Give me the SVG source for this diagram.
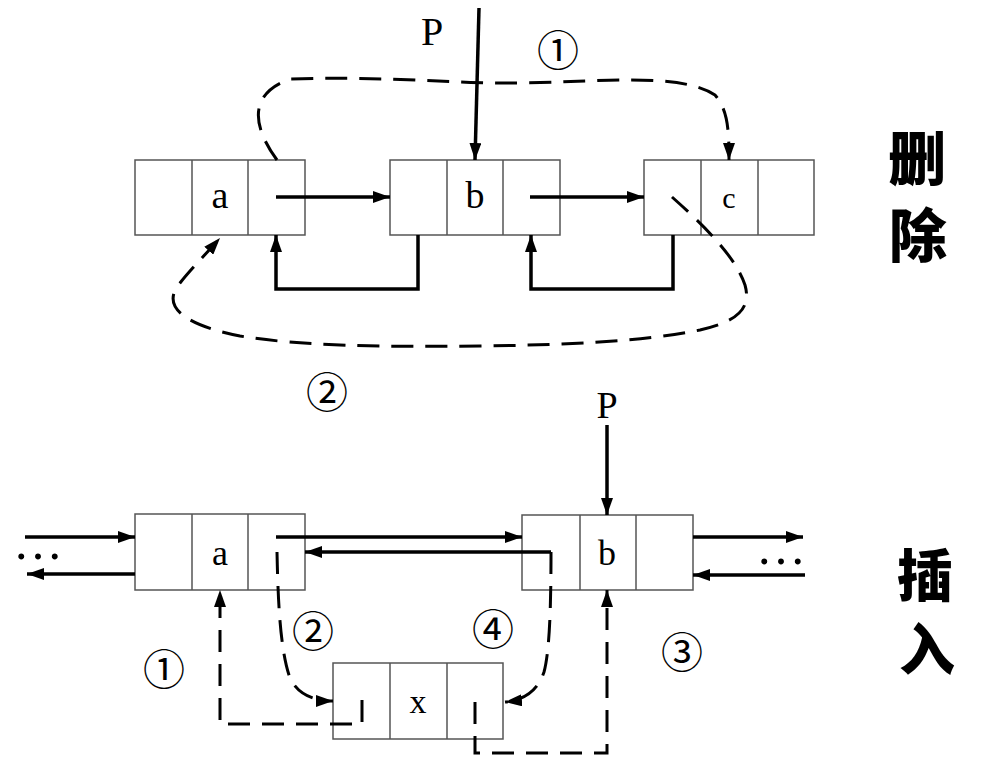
<svg xmlns="http://www.w3.org/2000/svg" width="987" height="776" viewBox="0 0 987 776">
<defs>
<style>
.box{fill:#fff;stroke:#555;stroke-width:1.5}
.ln{fill:none;stroke:#000;stroke-width:3.5}
.dl{fill:none;stroke:#000;stroke-width:3;stroke-dasharray:22 12}
.t{font-family:"Liberation Serif","Times New Roman",serif;fill:#000;text-anchor:middle}
.c{font-family:"Noto Sans CJK SC",sans-serif;fill:#000;text-anchor:middle}
.h{font-family:"Noto Sans CJK SC",sans-serif;font-weight:900;fill:#000;text-anchor:middle}
</style>
<marker id="ah" viewBox="0 0 17 12" refX="17" refY="6" markerWidth="17" markerHeight="12" markerUnits="userSpaceOnUse" orient="auto">
<path d="M0,0 L17,6 L0,12 Z" fill="#000"/>
</marker>
</defs>
<rect width="987" height="776" fill="#fff"/>

<g id="top-a">
<rect class="box" x="135" y="160" width="170" height="75"/>
<line class="box" x1="192" y1="160" x2="192" y2="235"/>
<line class="box" x1="248" y1="160" x2="248" y2="235"/>
<text class="t" x="220" y="208" font-size="38">a</text>
</g>
<g id="top-b">
<rect class="box" x="390" y="160" width="170" height="75"/>
<line class="box" x1="447" y1="160" x2="447" y2="235"/>
<line class="box" x1="503" y1="160" x2="503" y2="235"/>
<text class="t" x="475" y="208" font-size="38">b</text>
</g>
<g id="top-c">
<rect class="box" x="644" y="160" width="170" height="75"/>
<line class="box" x1="701" y1="160" x2="701" y2="235"/>
<line class="box" x1="758" y1="160" x2="758" y2="235"/>
<text class="t" x="729" y="208" font-size="30">c</text>
</g>

<g id="bot-a">
<rect class="box" x="135" y="514" width="170" height="76"/>
<line class="box" x1="192" y1="514" x2="192" y2="590"/>
<line class="box" x1="248" y1="514" x2="248" y2="590"/>
<text class="t" x="220" y="565" font-size="36">a</text>
</g>
<g id="bot-b">
<rect class="box" x="522" y="515" width="171" height="75"/>
<line class="box" x1="580" y1="515" x2="580" y2="590"/>
<line class="box" x1="636" y1="515" x2="636" y2="590"/>
<text class="t" x="607" y="565" font-size="36">b</text>
</g>
<g id="bot-x">
<rect class="box" x="333" y="663" width="170" height="76"/>
<line class="box" x1="390" y1="663" x2="390" y2="739"/>
<line class="box" x1="447" y1="663" x2="447" y2="739"/>
<text class="t" x="418" y="713" font-size="34">x</text>
</g>

<g id="connectors">
<path class="ln" d="M276,197 H390" marker-end="url(#ah)"/>
<path class="ln" d="M530,197 H644" marker-end="url(#ah)"/>
<path class="ln" d="M479,8 L475,160" marker-end="url(#ah)"/>
<path class="ln" d="M418,235 V289 H276 V235" marker-end="url(#ah)"/>
<path class="ln" d="M673,235 V289 H531 V235" marker-end="url(#ah)"/>
<path class="dl" d="M277,160 C255,130 245,95 290,79 C400,76 450,84 520,83 C600,82 680,72 715,95 C728,110 729,130 729,160" marker-end="url(#ah)"/>
<path class="dl" d="M672,197 C700,222 735,255 745,285 C752,310 735,322 700,330 C640,342 560,345 480,346 C380,347 300,346 240,336 C170,322 165,300 180,283 C190,270 205,255 220,238" marker-end="url(#ah)"/>

<path class="ln" d="M25,537 H135" marker-end="url(#ah)"/>
<path class="ln" d="M135,574 H27" marker-end="url(#ah)"/>
<path class="ln" d="M276,537 H522" marker-end="url(#ah)"/>
<path class="ln" d="M551,552 H305" marker-end="url(#ah)"/>
<path class="ln" d="M693,537 H803" marker-end="url(#ah)"/>
<path class="ln" d="M805,575 H693" marker-end="url(#ah)"/>
<path class="ln" d="M607,425 V515" marker-end="url(#ah)"/>
<path class="dl" d="M362,700 V724 H220 V590" marker-end="url(#ah)"/>
<path class="dl" d="M277,552 C278,600 280,650 290,678 C298,695 315,701 333,701" marker-end="url(#ah)"/>
<path class="dl" d="M475,702 V753 H607 V590" marker-end="url(#ah)"/>
<path class="dl" d="M551,552 C551,600 550,650 544,672 C538,690 525,700 505,702" marker-end="url(#ah)"/>
</g>

<g id="labels">
<text class="t" x="432" y="45" font-size="40">P</text>
<text class="t" x="607" y="418" font-size="38">P</text>
<text class="c" x="558" y="66" font-size="42">①</text>
<text class="c" x="327" y="408" font-size="42">②</text>
<text class="c" x="164" y="685" font-size="42">①</text>
<text class="c" x="313" y="647" font-size="42">②</text>
<text class="c" x="682" y="668" font-size="42">③</text>
<text class="c" x="493" y="645" font-size="42">④</text>
<text class="t" x="38" y="559" font-size="50">…</text>
<text class="t" x="781" y="564" font-size="50">…</text>
<text class="h" x="917" y="180" font-size="58">删</text>
<text class="h" x="918" y="257" font-size="58">除</text>
<text class="h" x="925" y="596" font-size="56">插</text>
<text class="h" x="927" y="670" font-size="56">入</text>
</g>
</svg>
